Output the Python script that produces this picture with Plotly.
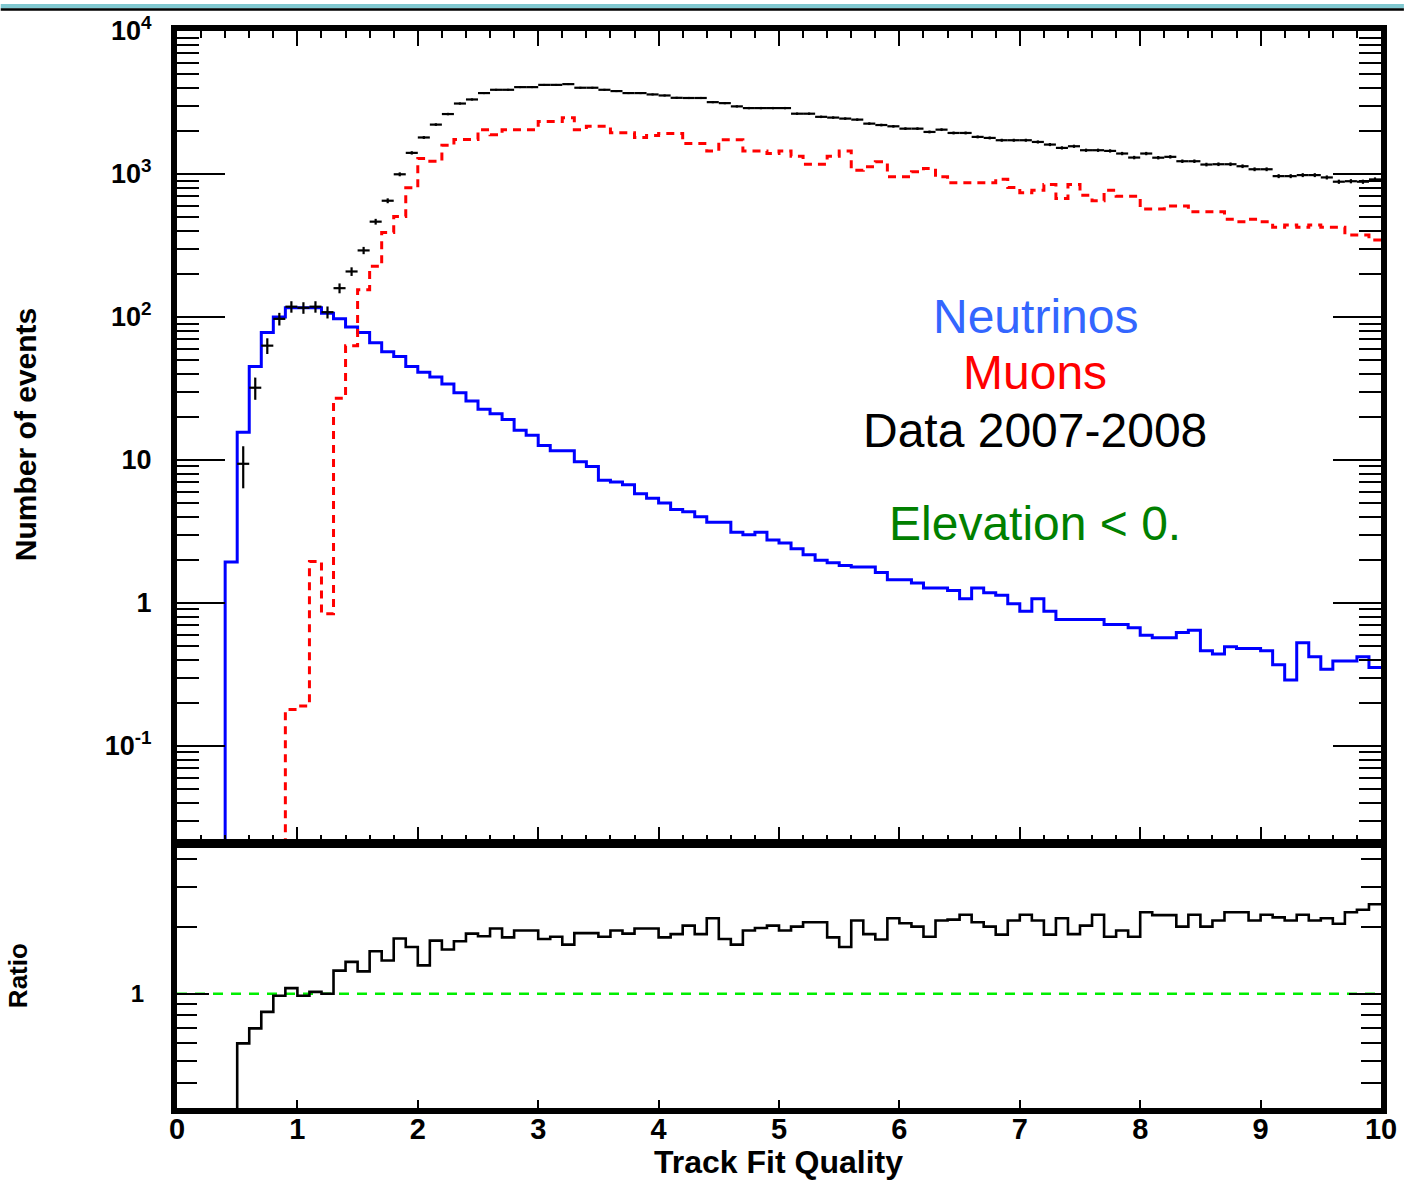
import numpy as np
import plotly.graph_objects as go

# ---------------- data (bins of width 0.1 from 0 to 10) ----------------
bin_edges = [round(0.1 * i, 1) for i in range(101)]
bin_centers = [round(0.1 * i + 0.05, 2) for i in range(100)]

neutrinos = [
    0, 0, 0, 0, 1.93, 15.6, 45, 78, 100, 116,
    116, 116, 106, 97, 85, 78, 66, 57, 53, 45,
    41, 38, 34, 29.5, 25.8, 22.6, 21, 19.2, 16.1, 14.9,
    12.6, 11.6, 11.6, 9.7, 9.0, 7.2, 7.0, 6.7, 5.8, 5.4,
    5.0, 4.5, 4.35, 4.0, 3.67, 3.67, 3.12, 3.0, 3.12, 2.76,
    2.63, 2.39, 2.17, 1.99, 1.91, 1.83, 1.78, 1.78, 1.63, 1.45,
    1.45, 1.38, 1.27, 1.27, 1.22, 1.07, 1.27, 1.18, 1.13, 0.985,
    0.875, 1.07, 0.875, 0.765, 0.765, 0.765, 0.765, 0.706, 0.706, 0.67,
    0.595, 0.57, 0.57, 0.62, 0.645, 0.463, 0.44, 0.493, 0.48, 0.48,
    0.463, 0.37, 0.289, 0.526, 0.42, 0.343, 0.393, 0.393, 0.42, 0.354,
]

muons = [
    0, 0, 0, 0, 0, 0, 0, 0, 0, 0.18,
    0.19, 1.95, 0.84, 27, 63, 155, 226, 389, 505, 800,
    1282, 1230, 1588, 1740, 1740, 2042, 1883, 2042, 2042, 2042,
    2333, 2333, 2477, 2042, 2155, 2155, 1946, 1946, 1796, 1862,
    1916, 1916, 1632, 1632, 1450, 1738, 1738, 1450, 1450, 1390,
    1450, 1331, 1170, 1170, 1331, 1450, 1063, 1122, 1216, 955,
    955, 1035, 1092, 955, 867, 867, 867, 867, 920, 805,
    740, 771, 845, 675, 845, 711, 650, 771, 700, 700,
    568, 568, 597, 597, 545, 545, 545, 482, 464, 482,
    464, 424, 440, 424, 440, 424, 424, 375, 375, 346,
]

data_2007_2008 = [
    0, 0, 0, 0, 0, 9.4, 32, 63, 97, 118,
    116, 118, 108, 159, 208, 292, 464, 650, 995, 1405,
    1800, 2215, 2625, 3110, 3320, 3680, 3880, 3880, 4050, 4050,
    4200, 4200, 4250, 4010, 4010, 3880, 3800, 3680, 3680, 3600,
    3540, 3410, 3400, 3400, 3180, 3130, 2970, 2890, 2890, 2890,
    2890, 2640, 2640, 2510, 2480, 2440, 2400, 2250, 2200, 2155,
    2075, 2075, 1968, 2042, 1936, 1936, 1817, 1787, 1722, 1722,
    1722, 1675, 1606, 1522, 1563, 1466, 1466, 1450, 1390, 1303,
    1390, 1300, 1318, 1228, 1228, 1164, 1170, 1170, 1133, 1079,
    1079, 966, 966, 982, 982, 946, 883, 890, 883, 916,
]

ratio = [
    0, 0, 0, 0, 0, 0.60, 0.70, 0.83, 0.98, 1.06,
    0.98, 1.02, 1.00, 1.27, 1.39, 1.26, 1.55, 1.41, 1.77, 1.62,
    1.34, 1.73, 1.58, 1.72, 1.86, 1.81, 1.96, 1.79, 1.92, 1.92,
    1.76, 1.80, 1.66, 1.87, 1.87, 1.80, 1.92, 1.86, 1.96, 1.96,
    1.79, 1.85, 2.02, 1.85, 2.18, 1.76, 1.66, 1.92, 1.97, 2.02,
    1.92, 2.00, 2.09, 2.09, 1.79, 1.62, 2.13, 1.85, 1.75, 2.18,
    2.07, 2.00, 1.80, 2.13, 2.15, 2.26, 2.09, 2.00, 1.84, 2.13,
    2.26, 2.13, 1.84, 2.18, 1.85, 2.02, 2.26, 1.80, 1.92, 1.80,
    2.32, 2.25, 2.25, 2.00, 2.26, 2.00, 2.13, 2.32, 2.32, 2.13,
    2.26, 2.20, 2.13, 2.26, 2.13, 2.18, 2.06, 2.32, 2.38, 2.52,
]
ratio_reference = 1.0

y_tick_vals = [0.1, 1, 10, 100, 1000, 10000]
y_tick_text = ["10<sup>-1</sup>", "1", "10", "10<sup>2</sup>", "10<sup>3</sup>", "10<sup>4</sup>"]
x_tick_vals = list(range(11))

# ---------------- geometry ----------------
W, H = 1409, 1181
ML, MR, MT, MB = 177, 23, 27, 73
PW, PH = W - ML - MR, H - MT - MB


def px(xp):
    return (xp - ML) / PW


def py(yp):
    return (H - MB - yp) / PH


def floor_zero(vals, floor):
    return [v if v > 0 else floor for v in vals]


def step_y(vals):
    return list(vals) + [vals[-1]]


FONT = "Liberation Sans"

fig = go.Figure()

# neutrinos (blue solid step)
fig.add_trace(go.Scatter(
    x=bin_edges, y=step_y(floor_zero(neutrinos, 1e-3)), mode="lines",
    line=dict(color="#0000ff", width=3, shape="hv"),
    xaxis="x", yaxis="y", showlegend=False, hoverinfo="skip"))

# muons (red dashed step)
fig.add_trace(go.Scatter(
    x=bin_edges, y=step_y(floor_zero(muons, 1e-3)), mode="lines",
    line=dict(color="#ff0000", width=3, shape="hv", dash="8px,6px"),
    xaxis="x", yaxis="y", showlegend=False, hoverinfo="skip"))

# data points with error bars
dx = [c for c, v in zip(bin_centers, data_2007_2008) if v > 0]
dy = [v for v in data_2007_2008 if v > 0]
fig.add_trace(go.Scatter(
    x=dx, y=dy, mode="markers",
    marker=dict(size=1, color="black"),
    error_x=dict(type="constant", value=0.05, width=0, thickness=2.2, color="black"),
    error_y=dict(type="data", array=list(np.sqrt(dy)), width=0, thickness=2.2, color="black"),
    xaxis="x", yaxis="y", showlegend=False, hoverinfo="skip"))

# reference line at ratio = 1 (drawn as a trace over the full x range)
fig.add_trace(go.Scatter(
    x=[bin_edges[0], bin_edges[-1]], y=[ratio_reference, ratio_reference], mode="lines",
    line=dict(color="#00ee00", width=2.5, dash="10px,8px"),
    xaxis="x2", yaxis="y2", showlegend=False, hoverinfo="skip"))

# ratio
fig.add_trace(go.Scatter(
    x=bin_edges, y=step_y(floor_zero(ratio, 0.01)), mode="lines",
    line=dict(color="black", width=2.6, shape="hv"),
    xaxis="x2", yaxis="y2", showlegend=False, hoverinfo="skip"))

minor_log = [k * 10.0 ** n for n in range(-2, 4) for k in range(2, 10)]
minor_ratio = [0.4, 0.5, 0.6, 0.7, 0.8, 0.9, 2, 3, 4]

axis_common = dict(showline=True, linewidth=6, linecolor="black", showgrid=False,
                   zeroline=False, ticks="inside", tickcolor="black", tickwidth=2)

top_y_bottom = py(841)
ratio_y_top = py(844)

fig.update_layout(
    width=W, height=H, margin=dict(l=ML, r=MR, t=MT, b=MB),
    paper_bgcolor="white", plot_bgcolor="white",
    xaxis=dict(**axis_common, range=[0, 10], anchor="y", mirror="ticks",
               tickmode="array", tickvals=x_tick_vals, ticklen=15, showticklabels=False,
               minor=dict(dtick=0.2, tick0=0, ticks="inside", ticklen=7, tickwidth=2, tickcolor="black")),
    yaxis=dict(**axis_common, type="log", range=[-1.672, 4.0], domain=[top_y_bottom, 1],
               anchor="x", mirror="ticks", tickmode="array", tickvals=y_tick_vals,
               ticktext=["<b>" + t + "</b>" for t in y_tick_text], ticklen=48,
               tickfont=dict(family=FONT, size=27, color="black"), ticklabelstandoff=14,
               minor=dict(tickmode="array", tickvals=minor_log, ticks="inside", ticklen=22,
                          tickwidth=2, tickcolor="black")),
    xaxis2=dict(**axis_common, range=[0, 10], anchor="y2", matches="x", mirror=True,
                tickmode="array", tickvals=x_tick_vals, ticklen=8,
                ticktext=["<b>%d</b>" % v for v in x_tick_vals],
                tickfont=dict(family=FONT, size=29, color="black"), ticklabelstandoff=-10),
    yaxis2=dict(**axis_common, type="log", range=[np.log10(0.308), np.log10(4.64)],
                domain=[0, ratio_y_top], anchor="x2", mirror="ticks", tickmode="array",
                tickvals=[1], ticktext=["<b>1</b>"], ticklen=32,
                tickfont=dict(family=FONT, size=24, color="black"), ticklabelstandoff=22,
                minor=dict(tickmode="array", tickvals=minor_ratio, ticks="inside", ticklen=20,
                           tickwidth=2, tickcolor="black")),
)

# window header bar
fig.add_shape(type="rect", xref="paper", yref="paper", x0=px(0), x1=px(W), y0=py(4.5), y1=py(0),
              fillcolor="#80c8d0", line=dict(width=0), layer="above")
fig.add_shape(type="line", xref="paper", yref="paper", x0=px(0), x1=px(W), y0=py(5.5), y1=py(5.5),
              line=dict(color="black", width=2.5), layer="above")

# in-plot texts
texts = [
    ("Neutrinos", "#3366ff", 2.0),
    ("Muons", "#ff0000", 1.613),
    ("Data 2007-2008", "#000000", 1.203),
    ("Elevation &lt; 0.", "#008000", 0.557),
]
for t, c, ylog in texts:
    fig.add_annotation(text=t, xref="x", yref="y", x=7.13, y=ylog, showarrow=False,
                       xanchor="center", yanchor="middle",
                       font=dict(family=FONT, size=48, color=c))

# axis titles
fig.add_annotation(text="<b>Track Fit Quality</b>", xref="paper", yref="paper",
                   x=px(781), y=py(1162), showarrow=False, xanchor="center", yanchor="middle",
                   font=dict(family=FONT, size=32, color="black"))
fig.add_annotation(text="<b>Number of events</b>", xref="paper", yref="paper",
                   x=px(25), y=py(432), showarrow=False, xanchor="center", yanchor="middle",
                   textangle=-90, font=dict(family=FONT, size=30, color="black"))
fig.add_annotation(text="<b>Ratio</b>", xref="paper", yref="paper",
                   x=px(18), y=py(975), showarrow=False, xanchor="center", yanchor="middle",
                   textangle=-90, font=dict(family=FONT, size=26, color="black"))

fig.write_html("out.html")
